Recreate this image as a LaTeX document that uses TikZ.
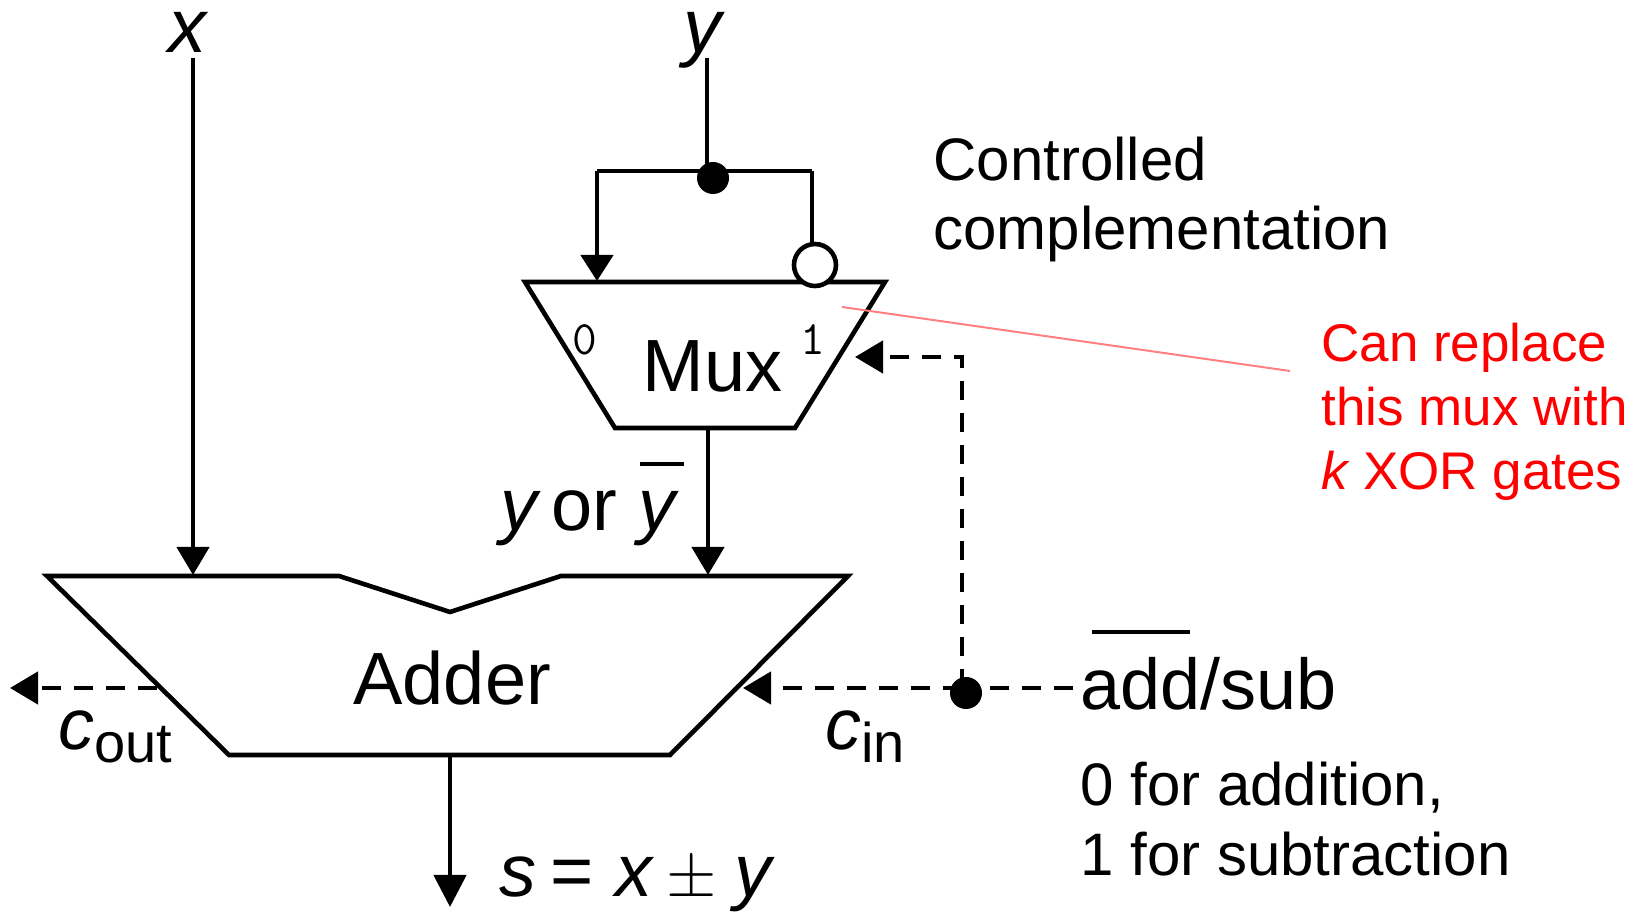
\documentclass[tikz,border=0pt]{standalone}
\usepackage{fontspec}
\usepackage{graphicx}
\setmainfont{Liberation Sans}
\usetikzlibrary{arrows.meta}
\tikzset{
  x=0.5pt,y=-0.5pt,
  wire/.style={line width=2.3pt,line cap=butt},
  arr/.style={wire,-{Triangle[length=14pt,width=16pt]}},
  arrs/.style={wire,-{Triangle[length=13pt,width=16pt]}},
  arrl/.style={wire,-{Triangle[length=16pt,width=16pt]}},
  dsh/.style={wire,dash pattern=on 9.5pt off 6.5pt},
  darr/.style={dsh,-{Triangle[length=14pt,width=16pt,sep=0pt]}},
  dot/.style={circle,fill=black,inner sep=0pt,minimum size=16pt},
  lab/.style={inner sep=0pt,anchor=base west},
  big/.style={font=\fontsize{37}{40}\selectfont},
  vbig/.style={font=\fontsize{38}{40}\selectfont\itshape},
  mid/.style={font=\fontsize{30}{36}\selectfont},
  redt/.style={font=\fontsize{26.5}{32}\selectfont,text=red},
  digit/.style={font=\ttfamily\fontsize{24}{28}\selectfont},
  barline/.style={line width=1.6pt},
}
\newcommand{\subtxt}[1]{\fontsize{28}{30}\selectfont\raisebox{-6.5pt}{#1}}
\begin{document}
\begin{tikzpicture}
\useasboundingbox (0,0) rectangle (1640,913);
% text
\node[lab,vbig] (tx) at (168,53) {x};
\node[lab,vbig] (ty) at (683,53) {y};
\node[lab,mid] (t1) at (933,181) {Controlled};
\node[lab,mid] (t2) at (933,250) {complementation};
\node[lab,redt] (r1) at (1321,362) {Can replace};
\node[lab,redt] (r2) at (1321,426) {this mux with};
\node[lab,redt] (r3) at (1321,490) {\textit{k}\hspace{6.5pt}XOR gates};
\node[lab,big] (mux) at (642,392) {Mux};
\node[lab,digit] (m0) at (572,355) {0};
\node[lab,digit] (m1) at (800,355) {1};
\node[lab,big] (yory) at (500,531) {\textit{y}\hspace{5pt}or\hspace{11pt}\textit{y}};
\node[lab,big] (adder) at (353,705) {Adder};
\node[lab,font=\fontsize{36}{40}\selectfont] (cout) at (58,750) {\textit{c}\subtxt{out}};
\node[lab,font=\fontsize{36}{40}\selectfont] (cin) at (825,750) {\textit{c}\subtxt{in}};
\node[lab,font=\fontsize{36}{40}\selectfont] (as) at (1080,710) {add/sub};
\node[lab,mid] (z1) at (1080,806) {0 for addition,};
\node[lab,mid] (z2) at (1080,876) {1 for subtraction};
\node[lab,big] (sum) at (499,897) {\textit{s}\hspace{7pt}=\hspace{11pt}\textit{x}\hspace{6pt}\scalebox{1.3}{$\pm$}\hspace{8.5pt}\textit{y}};
% shapes
\coordinate (xs) at (193,58);
\coordinate (xe) at (193,575);
\coordinate (ys) at (707,58);
\coordinate (yj) at (707,171);
\coordinate (bl) at (597,171);
\coordinate (br) at (812,171);
\coordinate (bl2) at (597,281);
\coordinate (br2) at (812,246);
\draw[wire,line join=miter] (525,282) -- (885,282) -- (795,428) -- (615,428) -- cycle;
\draw[wire,line join=miter] (47,576) -- (339,576) -- (450,612) -- (561,576) -- (848,576) -- (670,755) -- (229,755) -- cycle;
\draw[arr] (xs) -- (xe);
\draw[wire] (ys) -- (yj);
\draw[wire] (bl) -- (br);
\draw[arrs] (bl) -- (bl2);
\draw[wire] (br) -- (br2);
\node[dot] (jy) at (713,178) {};
\node[circle,draw=black,fill=white,line width=2.3pt,inner sep=0pt,minimum size=21pt] (inv) at (815,265) {};
\draw[arr] (708,428) -- (708,575);
\draw[arrl] (450,755) -- (450,907);
\coordinate (cj) at (962,688);
\coordinate (c1) at (962,357);
\coordinate (c2) at (855,357);
\coordinate (cinp) at (743,688);
\coordinate (asl) at (1073,688);
\coordinate (coutl) at (157,688);
\coordinate (coute) at (10,688);
\coordinate (rs) at (842,307);
\coordinate (re) at (1290,371);
\draw[darr] (cj) -- (c1) -- (c2);
\draw[darr] (cj) -- (cinp);
\draw[dsh] (asl) -- (cj);
\draw[darr] (coutl) -- (coute);
\node[dot] (jd) at (966,693) {};
\draw[draw={rgb,255:red,255;green,128;blue,128},line width=1pt] (rs) -- (re);
\draw[barline] (640,464) -- (684,464);
\draw[barline] (1092,632) -- (1190,632);
\end{tikzpicture}
\end{document}
